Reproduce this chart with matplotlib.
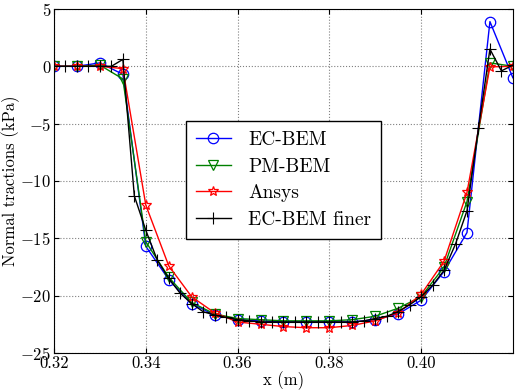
import numpy as np
import matplotlib
matplotlib.use("Agg")
import matplotlib.pyplot as plt

plt.rcParams["font.family"] = "cmr10"
plt.rcParams["mathtext.fontset"] = "cm"
plt.rcParams["axes.formatter.use_mathtext"] = True
plt.rcParams["axes.unicode_minus"] = True

# ---------------------------------------------------------------- data
x_coarse = [0.320, 0.325, 0.330, 0.335, 0.340, 0.345, 0.350, 0.355, 0.360,
            0.365, 0.370, 0.375, 0.380, 0.385, 0.390, 0.395, 0.400, 0.405,
            0.410, 0.415, 0.420]
ec_bem = [0.0, 0.0, 0.3, -0.7, -15.7, -18.6, -20.7, -21.7, -22.1,
          -22.2, -22.3, -22.3, -22.3, -22.3, -22.1, -21.6, -20.4, -17.9,
          -14.5, 3.9, -1.0]
pm_bem = [0.0, 0.0, 0.1, -1.1, -15.3, -18.4, -20.6, -21.6, -22.0,
          -22.1, -22.2, -22.2, -22.2, -22.1, -21.8, -21.1, -20.1, -17.5,
          -11.8, 0.3, 0.0]
ansys = [0.0, 0.0, 0.0, -0.2, -12.1, -17.4, -20.1, -21.5, -22.3,
         -22.5, -22.7, -22.8, -22.8, -22.6, -22.2, -21.5, -19.9, -17.0,
         -11.0, -0.05, 0.0]

x_fine = [0.3200, 0.3225, 0.3250, 0.3275, 0.3300, 0.3325, 0.3350, 0.3375,
          0.3400, 0.3425, 0.3450, 0.3475, 0.3500, 0.3525, 0.3550, 0.3575,
          0.3600, 0.3625, 0.3650, 0.3675, 0.3700, 0.3725, 0.3750, 0.3775,
          0.3800, 0.3825, 0.3850, 0.3875, 0.3900, 0.3925, 0.3950, 0.3975,
          0.4000, 0.4025, 0.4050, 0.4075, 0.4100, 0.4125, 0.4150, 0.4175,
          0.4200]
ec_bem_finer = [0.0, 0.0, 0.0, 0.0, 0.0, 0.0, 0.6, -11.3,
                -14.3, -16.9, -18.5, -19.8, -20.7, -21.4, -21.7, -21.9,
                -22.1, -22.2, -22.3, -22.3, -22.3, -22.3, -22.3, -22.3,
                -22.3, -22.3, -22.3, -22.2, -22.0, -21.8, -21.4, -20.8,
                -20.1, -19.1, -17.8, -15.5, -12.6, -5.4, 1.5, -0.4,
                0.1]

# ---------------------------------------------------------------- plot
fig = plt.figure(figsize=(5.17, 3.90), dpi=100)
ax = fig.add_axes([0.1045, 0.095, 0.8875, 0.882])

ax.plot(x_coarse, ec_bem, color="blue", marker="o", mfc="none", ms=7.5,
        mew=0.9, lw=1.0, label="EC-BEM")
ax.plot(x_coarse, pm_bem, color="green", marker="v", mfc="none", ms=7.5,
        mew=0.9, lw=1.0, label="PM-BEM")
ax.plot(x_coarse, ansys, color="red", marker="*", mfc="none", ms=7.5,
        mew=0.9, lw=1.0, label="Ansys")
ax.plot(x_fine, ec_bem_finer, color="black", marker="+", ms=9,
        mew=0.8, lw=1.0, label="EC-BEM finer")

ax.set_xlim(0.32, 0.42)
ax.set_ylim(-25, 5)
ax.set_xticks([0.32, 0.34, 0.36, 0.38, 0.40])
ax.set_xticklabels(["0.32", "0.34", "0.36", "0.38", "0.40"])
ax.set_yticks([5, 0, -5, -10, -15, -20, -25])
ax.set_yticklabels(["$5$", "$0$", "$-5$", "$-10$", "$-15$", "$-20$", "$-25$"])
ax.tick_params(direction="in", top=True, right=True, labelsize=12, pad=2)
ax.grid(True, linestyle=":", color="0.5", lw=0.8)

ax.set_xlabel("x (m)", fontsize=12, labelpad=0)
ax.set_ylabel("Normal tractions (kPa)", fontsize=12, labelpad=0)

leg = ax.legend(loc="center", bbox_to_anchor=(0.5, 0.503), fontsize=14,
                fancybox=False, framealpha=1, edgecolor="black",
                handlelength=1.8, handletextpad=0.9, borderpad=0.5,
                labelspacing=0.45)
leg.get_frame().set_linewidth(1.0)

fig.savefig("out.png", dpi=100)
